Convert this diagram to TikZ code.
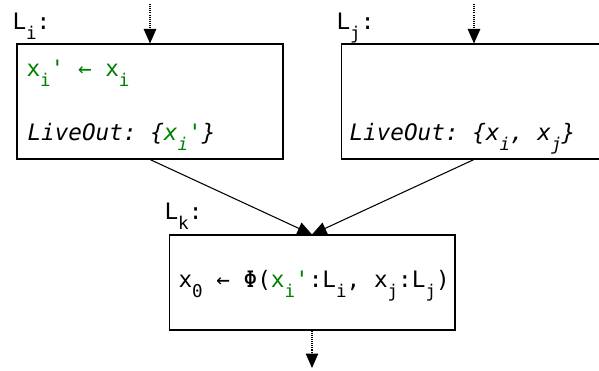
\documentclass[tikz,border=0pt]{standalone}
\usepackage{fontspec}
\setmonofont{DejaVu Sans Mono}
\usetikzlibrary{positioning, arrows.meta}

\definecolor{livegreen}{RGB}{0,128,0}
\newcommand{\subidx}[1]{\raisebox{-5.3pt}{\fontsize{10pt}{11pt}\selectfont #1}}
\newcommand{\prm}{\char"0027\relax}

\begin{document}
\begin{tikzpicture}[
    x=0.02cm, y=-0.02cm,
    font=\ttfamily\fontsize{12.9pt}{15pt}\selectfont,
    line width=0.6pt,
    block/.style={
        rectangle, draw=black, line width=0.6pt,
        minimum width=5.32cm, minimum height=2.30cm,
        inner sep=0pt
    },
    phiblock/.style={block, minimum width=5.72cm, minimum height=1.90cm},
    code/.style={anchor=base west, inner sep=0pt},
    flow/.style={-{Triangle[length=2.9mm, width=2.5mm]}, line width=0.6pt},
    dotflow/.style={flow, dash pattern=on 0.6pt off 0.6pt}
]
\useasboundingbox (0,0) rectangle (599,371);

% ============ Blocks ============
\node[block] (li) at (150,101.5) {};
\node[block] (lj) at (474,101.5) {};
\node[phiblock] (lk) at (312,282.5) {};

% ============ Block labels ============
\node[code] (lilabel) at (12,30) {L\subidx{i}:};
\node[code] (ljlabel) at (336,30) {L\subidx{j}:};
\node[code] (lklabel) at (164,220) {L\subidx{k}:};

% ============ Block contents ============
\node[code, text=livegreen] (copy) at (26,77) {x\subidx{i}\prm{} ← x\subidx{i}};
\node[code] (liveouti) at (27,141) {\itshape LiveOut: \{\textcolor{livegreen}{x\subidx{i}\prm}\}};
\node[code] (liveoutj) at (349,141) {\itshape LiveOut: \{x\subidx{i}, x\subidx{j}\}};
\node[code] (phi) at (178,288) {x\subidx{0} ← Φ(\textcolor{livegreen}{x\subidx{i}\prm}:L\subidx{i}, x\subidx{j}:L\subidx{j})};

% ============ Entry and exit ============
\coordinate (intoi) at (150,4);
\coordinate (intoj) at (474,4);
\coordinate (outk) at (312,368);

\draw[dotflow] (intoi) -- (li.north);
\draw[dotflow] (intoj) -- (lj.north);
\draw[dotflow] (lk.south) -- (outk);

% ============ Merge ============
\draw[flow] (li.south) -- (lk.north);
\draw[flow] (lj.south) -- (lk.north);

\end{tikzpicture}
\end{document}
